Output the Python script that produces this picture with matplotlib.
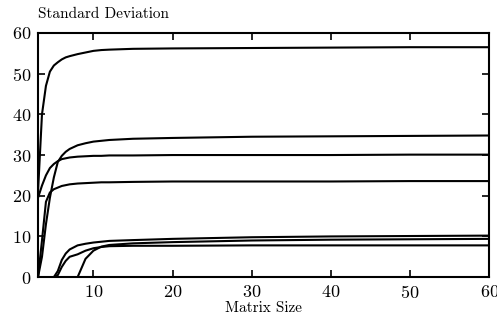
import matplotlib.pyplot as plt
from matplotlib.ticker import MultipleLocator

plt.rcParams['font.family'] = ['cmr10', 'DejaVu Serif']
plt.rcParams['axes.formatter.use_mathtext'] = True

# matrix sizes and standard deviations
size = [3, 3.5, 4, 4.5, 5, 5.5, 6, 6.5, 7, 8, 9, 10, 11, 12, 15, 20, 30, 40, 50, 60]

sd_a = [21, 40, 47, 50.5, 52, 52.8, 53.5, 54.0, 54.3, 54.8, 55.2, 55.6, 55.8, 55.9,
        56.1, 56.2, 56.3, 56.4, 56.5, 56.5]
sd_b = [0, 5, 13, 19.5, 24.5, 28.3, 29.8, 30.8, 31.5, 32.4, 32.9, 33.3, 33.5, 33.7,
        34.0, 34.2, 34.5, 34.6, 34.7, 34.8]
sd_c = [19.5, 22.5, 25, 26.8, 27.8, 28.5, 29.0, 29.2, 29.4, 29.6, 29.7, 29.8, 29.8,
        29.9, 29.9, 30.0, 30.0, 30.0, 30.1, 30.1]
sd_d = [0, 9, 18.5, 20.8, 21.6, 22, 22.4, 22.6, 22.8, 23.0, 23.1, 23.2, 23.3, 23.3,
        23.4, 23.5, 23.5, 23.5, 23.6, 23.6]
sd_e = [0, 0, 0, 0, 0, 1.5, 4.2, 5.8, 6.8, 7.8, 8.2, 8.5, 8.7, 8.9, 9.1, 9.4, 9.8,
        10.0, 10.1, 10.2]
sd_f = [0, 0, 0, 0, 0, 0.5, 2.5, 4.0, 5.0, 5.6, 6.5, 7.1, 7.4, 7.6, 7.7, 7.7, 7.8,
        7.8, 7.8, 7.8]
sd_g = [0, 0, 0, 0, 0, 0, 0, 0, 0, 0, 4.5, 6.5, 7.5, 7.9, 8.3, 8.6, 9.0, 9.2, 9.3, 9.4]

fig = plt.figure(figsize=(4.97, 3.2), dpi=100)
ax = fig.add_axes([0.0765, 0.134, 0.908, 0.763])

for sd in [sd_a, sd_b, sd_c, sd_d, sd_e, sd_f, sd_g]:
    ax.plot(size, sd, color='black', linewidth=1.5)

ax.set_xlim(3, 60)
ax.set_ylim(0, 60)
ax.xaxis.set_major_locator(MultipleLocator(10))
ax.yaxis.set_major_locator(MultipleLocator(10))
ax.tick_params(direction='in', top=True, right=True, length=5, width=1.2,
               labelsize=13, pad=5)
for s in ax.spines.values():
    s.set_linewidth(1.5)

ax.set_xlabel('Matrix Size', fontsize=11, labelpad=0)
fig.text(0.0765, 0.956, 'Standard Deviation', fontsize=11, va='center', ha='left')

fig.savefig('out.png', dpi=100)
